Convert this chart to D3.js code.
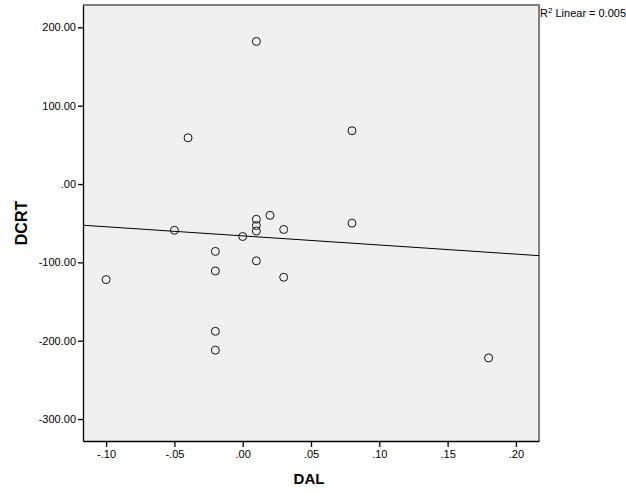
<!DOCTYPE html>
<html><head><meta charset="utf-8">
<script src="https://cdn.jsdelivr.net/npm/d3@7/dist/d3.min.js"></script>
<style>body{margin:0;background:#fff}svg{display:block}</style>
</head><body>
<svg id="c" width="626" height="501"></svg>
<script>
const dal  = [0.01,-0.04,0.08,0.02,0.01,0.01,0.01,0.03,0.08,-0.05,0.00,-0.02,-0.02,0.01,0.03,-0.10,-0.02,-0.02,0.18];
const dcrt = [182,59,68,-40,-45,-53,-60,-58,-50,-59,-67,-86,-111,-98,-119,-122,-188,-212,-222];
const xTicks = [-0.10,-0.05,0.00,0.05,0.10,0.15,0.20];
const yTicks = [200,100,0,-100,-200,-300];
const r2Label = "0.005";

const svg = d3.select("#c");
const L=83, R=539, T=5, B=441;
const x = d3.scaleLinear().domain([-0.1169,0.2169]).range([L,R]);
const y = d3.scaleLinear().domain([-328,228.5]).range([B,T]);

const fmt = v => { let s=Math.abs(v).toFixed(2).replace(/^0/,""); return (v<0?"-":"")+s; };

svg.append("rect").attr("x",L).attr("y",T).attr("width",R-L).attr("height",B-T)
  .attr("fill","#f0f0f0");
svg.append("path").attr("d",`M${L},${T}H${R}V${B}`).attr("fill","none").attr("stroke","#7f7f7f").attr("stroke-width",2);

const fontFam = "'Liberation Sans', Arial, sans-serif";

const yAxis = svg.append("g").attr("transform",`translate(${L},0)`)
  .call(d3.axisLeft(y).tickValues(yTicks).tickFormat(fmt).tickSize(5).tickSizeOuter(0).tickPadding(2));
const xAxis = svg.append("g").attr("transform",`translate(0,${B})`)
  .call(d3.axisBottom(x).tickValues(xTicks).tickFormat(fmt).tickSize(6).tickSizeOuter(0).tickPadding(3));
[xAxis,yAxis].forEach(g=>{
  g.select(".domain").attr("stroke","#000").attr("stroke-width",1.3);
  g.selectAll(".tick line").attr("stroke","#000").attr("stroke-width",1.3);
  g.selectAll(".tick text").attr("fill","#000").style("font-family",fontFam).style("font-size","11px");
});

// regression line (least squares on the data)
const n=dal.length, mx=d3.mean(dal), my=d3.mean(dcrt);
let sxy=0,sxx=0; for(let i=0;i<n;i++){sxy+=(dal[i]-mx)*(dcrt[i]-my);sxx+=(dal[i]-mx)**2;}
const b=sxy/sxx, a=my-b*mx;
const [x0,x1]=x.domain();
svg.append("line").attr("x1",x(x0)).attr("y1",y(a+b*x0)).attr("x2",x(x1)).attr("y2",y(a+b*x1))
  .attr("stroke","#000").attr("stroke-width",1);

svg.append("g").selectAll("circle").data(dal.map((d,i)=>[d,dcrt[i]])).join("circle")
  .attr("cx",d=>x(d[0])).attr("cy",d=>y(d[1])).attr("r",4)
  .attr("fill","none").attr("stroke","#111").attr("stroke-width",1);

svg.append("text").attr("x",309).attr("y",484).attr("text-anchor","middle")
  .style("font-family",fontFam).style("font-size","15px").style("font-weight","bold").text("DAL");
svg.append("text").attr("transform","translate(27,223) rotate(-90)").attr("text-anchor","middle")
  .style("font-family",fontFam).style("font-size","16px").style("font-weight","bold").text("DCRT");

const t=svg.append("text").attr("x",540).attr("y",17).style("font-family",fontFam).style("font-size","11px").attr("fill","#000");
t.append("tspan").text("R");
t.append("tspan").attr("dy",-4).style("font-size","8px").text("2");
t.append("tspan").attr("dy",4).text(" Linear = "+r2Label);
</script>
</body></html>
